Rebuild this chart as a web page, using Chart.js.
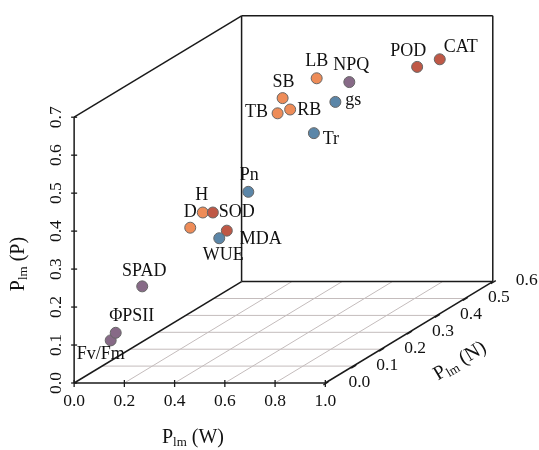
<!DOCTYPE html>
<html>
<head>
<meta charset="utf-8">
<script src="https://cdn.jsdelivr.net/npm/chart.js@4/dist/chart.umd.min.js"></script>
<style>
html,body{margin:0;padding:0;background:#fff;}
#wrap{width:539px;height:450px;position:relative;}
</style>
</head>
<body>
<div id="wrap"><canvas id="c" width="539" height="450"></canvas></div>
<script>
// ---- data ----
const traits = ["Fv/Fm","ΦPSII","SPAD","D","H","SOD","MDA","WUE","Pn","TB","RB","SB","LB","NPQ","gs","Tr","POD","CAT"];
const groups = ["chl","chl","chl","growth","growth","enz","enz","gas","gas","growth","growth","growth","growth","chl","gas","gas","enz","enz"];
const plmW = [0.09,0.11,0.16,0.24,0.29,0.33,0.33,0.30,0.36,0.31,0.36,0.33,0.41,0.54,0.54,0.51,0.81,0.90];
const plmN = [0.05,0.05,0.10,0.20,0.20,0.20,0.25,0.25,0.30,0.45,0.45,0.45,0.50,0.50,0.45,0.40,0.50,0.50];
const plmP = [0.09,0.11,0.21,0.32,0.36,0.36,0.29,0.27,0.37,0.51,0.52,0.55,0.58,0.57,0.54,0.48,0.61,0.63];
const ticksW = [0.0,0.2,0.4,0.6,0.8,1.0];
const ticksN = [0.0,0.1,0.2,0.3,0.4,0.5,0.6];
const ticksP = [0.0,0.1,0.2,0.3,0.4,0.5,0.6,0.7];

// ---- style / layout ----
const groupColors = {growth:"#EE8C58", enz:"#BF5846", gas:"#5B86A8", chl:"#876A87"};
const labelOffsets = [[-10,14],[16,-17],[2,-15],[0,-15],[-1,-17],[24,0],[34,9],[4,17],[1,-17],[-21,-1],[19,1],[1,-16],[0,-17],[2,-17],[18,-2],[17,6],[-9,-16],[21,-12]];
const W_PX = 257.4, P_PX = 391, N_DX = 286, N_DY = 174;
const ORIGIN_X = 69.3, ORIGIN_Y = 387.7, CW = 539, CH = 450;
const kx = N_DX / W_PX, ky = N_DY / P_PX;
const proj = (w, n, p) => ({x: w + n * kx, y: p + n * ky});
const FONT = '"Liberation Serif","Times New Roman",serif';
const INK = '#111';

const pts = traits.map((t, i) => proj(plmW[i], plmN[i], plmP[i]));

function P(chart, w, n, p) {
  const q = proj(w, n, p);
  return [chart.scales.x.getPixelForValue(q.x), chart.scales.y.getPixelForValue(q.y)];
}
function line(ctx, a, b) {
  ctx.beginPath(); ctx.moveTo(a[0], a[1]); ctx.lineTo(b[0], b[1]); ctx.stroke();
}
function subTitle(ctx, main, sub, rest, cx, cy, angle) {
  ctx.save();
  ctx.translate(cx, cy); ctx.rotate(angle);
  const big = '20px ' + FONT, small = '13px ' + FONT;
  ctx.font = big; const w1 = ctx.measureText(main).width; const w3 = ctx.measureText(rest).width;
  ctx.font = small; const w2 = ctx.measureText(sub).width;
  const tot = w1 + w2 + w3; let x = -tot / 2;
  ctx.fillStyle = INK; ctx.textBaseline = 'middle'; ctx.textAlign = 'left';
  ctx.font = big; ctx.fillText(main, x, 0); x += w1;
  ctx.font = small; ctx.fillText(sub, x, 5); x += w2;
  ctx.font = big; ctx.fillText(rest, x, 0);
  ctx.restore();
}

const boxPlugin = {
  id: 'box3d',
  beforeDatasetsDraw(chart) {
    const ctx = chart.ctx;
    ctx.save();
    // floor grid
    ctx.strokeStyle = '#c4bcbc'; ctx.lineWidth = 1;
    ticksN.forEach(n => { if (n > 0 && n < 0.6) line(ctx, P(chart,0,n,0), P(chart,1,n,0)); });
    ticksW.forEach(w => { if (w > 0 && w < 1) line(ctx, P(chart,w,0,0), P(chart,w,0.6,0)); });
    // box edges
    ctx.strokeStyle = '#1a1a1a'; ctx.lineWidth = 1.5;
    const e = [
      [[0,0,0],[0,0,0.7]], [[0,0,0],[1,0,0]], [[1,0,0],[1,0.6,0]], [[0,0,0],[0,0.6,0]],
      [[0,0.6,0],[1,0.6,0]], [[0,0.6,0],[0,0.6,0.7]], [[1,0.6,0],[1,0.6,0.7]],
      [[0,0.6,0.7],[1,0.6,0.7]], [[0,0,0.7],[0,0.6,0.7]]
    ];
    e.forEach(s => line(ctx, P(chart, ...s[0]), P(chart, ...s[1])));
    // ticks
    ctx.lineWidth = 1.3;
    ticksP.forEach(p => { const a = P(chart,0,0,p); line(ctx, [a[0]-3,a[1]], [a[0]+3,a[1]]); });
    ticksW.forEach(w => { const a = P(chart,w,0,0); line(ctx, [a[0],a[1]-3], [a[0],a[1]+4]); });
    ticksN.forEach(n => { const a = P(chart,1,n,0); line(ctx, [a[0]-2,a[1]+2], [a[0]+3,a[1]-1]); });
    // tick labels
    ctx.fillStyle = INK; ctx.font = '17.5px ' + FONT; ctx.textAlign = 'center'; ctx.textBaseline = 'middle';
    ticksW.forEach(w => { const a = P(chart,w,0,0); ctx.fillText(w.toFixed(1), a[0], a[1] + 18); });
    ticksN.forEach(n => { const a = P(chart,1,n,0); ctx.fillText(n.toFixed(1), a[0] + 34, a[1] - 1); });
    ticksP.forEach(p => {
      const a = P(chart,0,0,p);
      ctx.save(); ctx.translate(a[0] - 18, a[1]); ctx.rotate(-Math.PI/2);
      ctx.fillText(p.toFixed(1), 0, 0); ctx.restore();
    });
    // axis titles
    subTitle(ctx, 'P', 'lm', ' (W)', 193, 438, 0);
    subTitle(ctx, 'P', 'lm', ' (P)', 19, 264, -Math.PI/2);
    const n0 = P(chart,1,0,0), n1 = P(chart,1,0.6,0);
    subTitle(ctx, 'P', 'lm', ' (N)', 460, 361, Math.atan2(n1[1]-n0[1], n1[0]-n0[0]));
    ctx.restore();
  },
  afterDatasetsDraw(chart) {
    const ctx = chart.ctx;
    const meta = chart.getDatasetMeta(0);
    ctx.save();
    ctx.fillStyle = INK; ctx.font = '18px ' + FONT; ctx.textAlign = 'center'; ctx.textBaseline = 'middle';
    meta.data.forEach((el, i) => {
      ctx.fillText(traits[i], el.x + labelOffsets[i][0], el.y + labelOffsets[i][1]);
    });
    ctx.restore();
  }
};

new Chart(document.getElementById('c'), {
  type: 'scatter',
  data: {
    datasets: [{
      data: pts,
      pointRadius: 5.5,
      pointBackgroundColor: groups.map(g => groupColors[g]),
      pointBorderColor: '#666',
      pointBorderWidth: 1
    }]
  },
  options: {
    responsive: false,
    animation: false,
    devicePixelRatio: 1,
    layout: {padding: 0},
    plugins: {legend: {display: false}, tooltip: {enabled: false}},
    scales: {
      x: {type: 'linear', display: false, min: -ORIGIN_X / W_PX, max: (CW - ORIGIN_X) / W_PX},
      y: {type: 'linear', display: false, min: -(CH - ORIGIN_Y) / P_PX, max: ORIGIN_Y / P_PX}
    }
  },
  plugins: [boxPlugin]
});
</script>
</body>
</html>
